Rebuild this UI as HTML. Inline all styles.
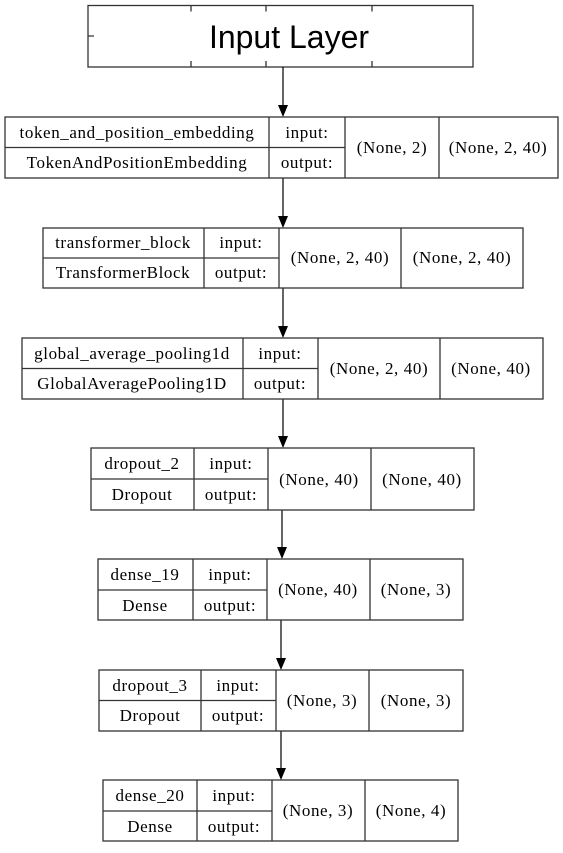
<!DOCTYPE html>
<html><head><meta charset="utf-8"><style>
html,body{margin:0;padding:0;background:#fff;}
svg text{font-family:"Liberation Serif",serif;font-size:17px;letter-spacing:0.6px;fill:#000;}
</style></head><body>
<svg width="563" height="848" viewBox="0 0 563 848" xmlns="http://www.w3.org/2000/svg">
<g fill="none" stroke="#333" stroke-width="1.3">
<rect x="88" y="5.5" width="385" height="61.5"/>
<path d="M191 5.5v6M266 5.5v6M372 5.5v6M191 67v-6M266 67v-6M372 67v-6M88 36h6"/>
</g>
<text x="289" y="48" text-anchor="middle" style="font-family:'Liberation Sans',sans-serif;font-size:32px;letter-spacing:0">Input Layer</text>
<g stroke="#000" stroke-width="1.2">
<line x1="283" y1="67" x2="283" y2="106"/>
<line x1="283" y1="178" x2="283" y2="217"/>
<line x1="283" y1="288" x2="283" y2="327"/>
<line x1="283" y1="399" x2="283" y2="437"/>
<line x1="282" y1="510" x2="282" y2="548"/>
<line x1="281" y1="620" x2="281" y2="659"/>
<line x1="281" y1="731" x2="281" y2="769"/>
</g>
<g fill="#000">
<polygon points="278,105 288,105 283,117"/>
<polygon points="278,216 288,216 283,228"/>
<polygon points="278,326 288,326 283,338"/>
<polygon points="278,436 288,436 283,448"/>
<polygon points="277,547 287,547 282,559"/>
<polygon points="276,658 286,658 281,670"/>
<polygon points="276,768 286,768 281,780"/>
</g>
<g fill="none" stroke="#333" stroke-width="1.3">
<rect x="5" y="117" width="553" height="61"/><path d="M269 117v61M345 117v61M439 117v61M5 147.5h340"/>
<rect x="43" y="228" width="480" height="60"/><path d="M204 228v60M279 228v60M401 228v60M43 258h236"/>
<rect x="22" y="338" width="521" height="61"/><path d="M243 338v61M318 338v61M440 338v61M22 368.5h296"/>
<rect x="91" y="448" width="383" height="62"/><path d="M194 448v62M268 448v62M371 448v62M91 479h177"/>
<rect x="98" y="559" width="365" height="61"/><path d="M193 559v61M267 559v61M370 559v61M98 590h169"/>
<rect x="99" y="670" width="364" height="61"/><path d="M201 670v61M276 670v61M369 670v61M99 700.5h177"/>
<rect x="103" y="780" width="355" height="61"/><path d="M197 780v61M272 780v61M365 780v61M103 811h169"/>
</g>
<g text-anchor="middle">
<text x="137" y="138">token_and_position_embedding</text><text x="137" y="168">TokenAndPositionEmbedding</text>
<text x="307" y="138">input:</text><text x="307" y="168">output:</text>
<text x="392" y="153">(None, 2)</text><text x="498" y="153">(None, 2, 40)</text>

<text x="123" y="248">transformer_block</text><text x="123" y="278">TransformerBlock</text>
<text x="241" y="248">input:</text><text x="241" y="278">output:</text>
<text x="340" y="263">(None, 2, 40)</text><text x="462" y="263">(None, 2, 40)</text>

<text x="132" y="359">global_average_pooling1d</text><text x="132" y="389">GlobalAveragePooling1D</text>
<text x="280" y="359">input:</text><text x="280" y="389">output:</text>
<text x="379" y="374">(None, 2, 40)</text><text x="491" y="374">(None, 40)</text>

<text x="142" y="469">dropout_2</text><text x="142" y="500">Dropout</text>
<text x="231" y="469">input:</text><text x="231" y="500">output:</text>
<text x="319" y="485">(None, 40)</text><text x="422" y="485">(None, 40)</text>

<text x="145" y="580">dense_19</text><text x="145" y="611">Dense</text>
<text x="230" y="580">input:</text><text x="230" y="611">output:</text>
<text x="318" y="595">(None, 40)</text><text x="416" y="595">(None, 3)</text>

<text x="150" y="691">dropout_3</text><text x="150" y="721">Dropout</text>
<text x="238" y="691">input:</text><text x="238" y="721">output:</text>
<text x="322" y="706">(None, 3)</text><text x="416" y="706">(None, 3)</text>

<text x="150" y="801">dense_20</text><text x="150" y="832">Dense</text>
<text x="234" y="801">input:</text><text x="234" y="832">output:</text>
<text x="318" y="816">(None, 3)</text><text x="411" y="816">(None, 4)</text>
</g>
</svg>
</body></html>
